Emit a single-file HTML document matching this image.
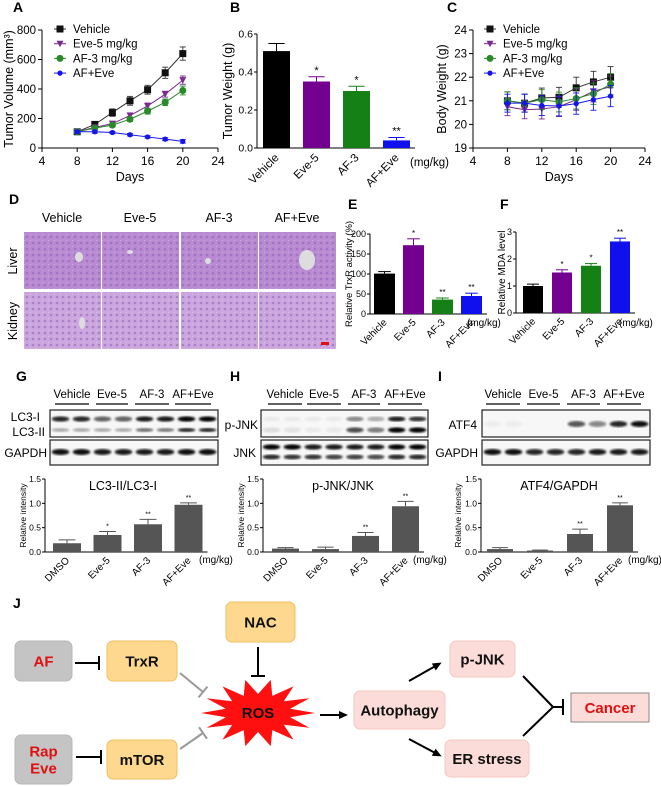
<!DOCTYPE html>
<html><head><meta charset="utf-8">
<style>
html,body{margin:0;padding:0;background:#fff;}
svg{display:block;font-family:"Liberation Sans",Arial,sans-serif;}
</style></head>
<body>
<svg id="fig" xmlns="http://www.w3.org/2000/svg" width="661" height="786" viewBox="0 0 661 786">
<defs>
<filter id="blur1"><feGaussianBlur stdDeviation="1.1"/></filter>
<pattern id="cells" width="6" height="6" patternUnits="userSpaceOnUse">
<circle cx="3" cy="3" r="1.3" fill="#8e5fb3" opacity="0.55"/>
<circle cx="0" cy="0" r="0.9" fill="#f0e0f5" opacity="0.6"/>
</pattern>
</defs>
<rect width="661" height="786" fill="#fff"/>
</svg>
<script>
// ---------- DATA ----------
const days=[8,10,12,14,16,18,20];
const volVehicle=[110,160,240,320,395,510,640];
const volEve=[110,140,165,220,285,365,460];
const volAF=[110,135,155,195,250,310,390];
const volAFEve=[110,110,105,90,75,60,45];
const volVehicleErr=[15,20,25,30,30,38,45];
const volEveErr=[10,12,15,18,20,20,28];
const volAFErr=[10,10,12,15,20,22,30];
const volAFEveErr=[10,10,8,8,8,10,12];
const volTicks=[0,200,400,600,800];
const dayTicks=[4,8,12,16,20,24];

const bwVehicle=[21.0,20.9,21.12,21.15,21.55,21.8,22.0];
const bwEve=[20.75,20.62,20.65,20.75,21.05,21.4,21.6];
const bwAF=[21.0,20.9,21.05,20.95,21.1,21.3,21.7];
const bwAFEve=[20.9,20.9,20.8,20.78,20.88,21.05,21.2];
const bwErr=[0.38,0.38,0.42,0.42,0.45,0.45,0.45];
const bwTicks=[19,20,21,22,23,24];

const drugCats=['Vehicle','Eve-5','AF-3','AF+Eve'];
const wbCats=['DMSO','Eve-5','AF-3','AF+Eve'];
const tumorWeight=[0.51,0.35,0.30,0.04];
const tumorWeightErr=[0.04,0.025,0.025,0.015];
const tumorWeightStars=['','*','*','**'];
const tumorWeightTicks=[0.0,0.2,0.4,0.6];

const trxr=[101,172,36,45];
const trxrErr=[5,16,4,7];
const trxrStars=['','*','**','**'];
const trxrTicks=[0,50,100,150,200];

const mda=[1.0,1.5,1.75,2.65];
const mdaErr=[0.07,0.1,0.08,0.12];
const mdaStars=['','*','*','**'];
const mdaTicks=[0,1,2,3];

const lc3Ratio=[0.18,0.35,0.57,0.97];
const lc3Err=[0.07,0.07,0.1,0.04];
const lc3Stars=['','*','**','**'];
const pjnkRatio=[0.07,0.06,0.33,0.94];
const pjnkErr=[0.02,0.04,0.07,0.1];
const pjnkStars=['','','**','**'];
const atf4Ratio=[0.06,0.03,0.37,0.96];
const atf4Err=[0.03,0.01,0.1,0.05];
const atf4Stars=['','','**','**'];
const wbTicks=['0.0','0.5','1.0','1.5'];

const seriesColors=['#111','#7b2a8f','#2a8a2a','#1515e6'];
const barColors=['#000','#74008f','#158015','#1010ee'];

// ---------- HELPERS ----------
const NS='http://www.w3.org/2000/svg';
const svg=document.getElementById('fig');
function mk(tag,attrs,parent){const e=document.createElementNS(NS,tag);for(const k in attrs)e.setAttribute(k,attrs[k]);(parent||svg).appendChild(e);return e;}
function txt(s,x,y,attrs,parent){const e=mk('text',Object.assign({x:x,y:y},attrs||{}),parent);e.textContent=s;return e;}
function grp(name){const g=mk('g',{});


return g;}
function label(s,x,y){const t=txt(s,x,y,{'font-size':14,'font-weight':'bold'});


}

// ---------- PANEL A & C: line charts ----------
function lineChart(name,ax,xs,yScale,xScale,series,errs,yTicks,yFmt,yLab,yLabX,legendX){
  const g=grp(name);
  const x0=xScale(4),x1=xScale(24),y0=yScale(yTicks[0]),y1=yScale(yTicks[yTicks.length-1]);
  const ya=mk('line',{x1:ax,y1:y0,x2:ax,y2:y1,stroke:'#000','stroke-width':1},g);
  
  
  const xa=mk('line',{x1:x0,y1:y0,x2:x1,y2:y0,stroke:'#000','stroke-width':1},g);
  
  
  yTicks.forEach(v=>{const y=yScale(v);mk('line',{x1:ax-4,y1:y,x2:ax,y2:y,stroke:'#000'},g);
    const t=txt(yFmt(v),ax-6,y+4,{'font-size':11.5,'text-anchor':'end'},g);
    
    });
  dayTicks.forEach(d=>{const x=xScale(d);mk('line',{x1:x,y1:y0,x2:x,y2:y0+4,stroke:'#000'},g);
    const t=txt(String(d),x,y0+17,{'font-size':12,'text-anchor':'middle'},g);
    
    });
  const xt=txt('Days',(x0+x1)/2,y0+33,{'font-size':12.5,'text-anchor':'middle'},g);
  
  
  const yt=txt(yLab,0,0,{'font-size':12.5,'text-anchor':'middle',transform:'translate('+yLabX+','+((y0+y1)/2)+') rotate(-90)'},g);
  
  
  const markers=['square','tri','circle','smallcircle'];
  const names=['Vehicle','Eve-5 mg/kg','AF-3 mg/kg','AF+Eve'];
  series.forEach((s,si)=>{
    const c=seriesColors[si];
    const pts=xs.map((d,i)=>xScale(d)+','+yScale(s[i])).join(' ');
    const pl=mk('polyline',{points:pts,fill:'none',stroke:si==0?'#333':c,'stroke-width':1},g);
    
    
    xs.forEach((d,i)=>{
      const x=xScale(d),y=yScale(s[i]),e=errs[si][i];
      const yt1=yScale(s[i]+e),yb=yScale(s[i]-e);
      mk('line',{x1:x,y1:yt1,x2:x,y2:yb,stroke:si==0?'#333':c,'stroke-width':0.9},g);
      mk('line',{x1:x-3,y1:yt1,x2:x+3,y2:yt1,stroke:si==0?'#333':c,'stroke-width':0.9},g);
      mk('line',{x1:x-3,y1:yb,x2:x+3,y2:yb,stroke:si==0?'#333':c,'stroke-width':0.9},g);
      const m=drawMarker(markers[si],x,y,c,g);
      
      
    });
    const ly=29+si*14.7;
    mk('line',{x1:legendX-6,y1:ly,x2:legendX+6,y2:ly,stroke:si==0?'#333':c},g);
    const lm=drawMarker(markers[si],legendX,ly,c,g);
    
    
    const lt=txt(names[si],legendX+13,ly+4,{'font-size':11.5},g);
    
    
  });
}
function drawMarker(type,x,y,c,g){
  if(type=='square')return mk('rect',{x:x-3.5,y:y-3.5,width:7,height:7,fill:c},g);
  if(type=='tri')return mk('polygon',{points:(x-3.5)+','+(y-3)+' '+(x+3.5)+','+(y-3)+' '+x+','+(y+3.5),fill:c},g);
  if(type=='circle')return mk('circle',{cx:x,cy:y,r:3.5,fill:c},g);
  return mk('circle',{cx:x,cy:y,r:2.6,fill:c},g);
}
label('A',13,12);
lineChart('tumor-volume-chart',42,days,v=>148-v*118/800,d=>42+(d-4)*8.8,
  [volVehicle,volEve,volAF,volAFEve],[volVehicleErr,volEveErr,volAFErr,volAFEveErr],
  volTicks,v=>String(v),'Tumor Volume (mm³)',13,60);
label('C',447,12);
lineChart('body-weight-chart',473,days,v=>148-(v-19)*118/5,d=>473+(d-4)*8.6,
  [bwVehicle,bwEve,bwAF,bwAFEve],[bwErr,bwErr,bwErr,bwErr],
  bwTicks,v=>String(v),'Body Weight (g)',446,490);

// ---------- BAR CHARTS ----------
function barChart(cfg){
  const g=grp(cfg.name);
  const y0=cfg.yScale(cfg.ticks[0]),yTop=cfg.yScale(cfg.ticks[cfg.ticks.length-1]);
  const ya=mk('line',{x1:cfg.ax,y1:y0,x2:cfg.ax,y2:yTop,stroke:'#000','stroke-width':cfg.lw||1},g);
  
  
  const xEnd=cfg.left(cfg.vals.length-1)+cfg.w+5;
  const xa=mk('line',{x1:cfg.ax,y1:y0,x2:xEnd,y2:y0,stroke:'#000','stroke-width':cfg.lw||1},g);
  
  
  cfg.ticks.forEach((v,i)=>{const y=cfg.yScale(v);mk('line',{x1:cfg.ax-3,y1:y,x2:cfg.ax,y2:y,stroke:'#000'},g);
    const t=txt(cfg.tickLabels?cfg.tickLabels[i]:String(v),cfg.ax-4,y+cfg.tfs*0.35,{'font-size':cfg.tfs,'text-anchor':'end'},g);
    
    });
  cfg.vals.forEach((v,i)=>{
    const x=cfg.left(i),yv=cfg.yScale(v);
    const b=mk('rect',{x:x,y:yv,width:cfg.w,height:y0-yv,fill:cfg.colors[i]},g);
    
    
    const cx=x+cfg.w/2,ye=cfg.yScale(v+cfg.errs[i]);
    mk('line',{x1:cx,y1:yv,x2:cx,y2:ye,stroke:cfg.colors[i],'stroke-width':1},g);
    mk('line',{x1:cx-cfg.w*0.3,y1:ye,x2:cx+cfg.w*0.3,y2:ye,stroke:cfg.colors[i],'stroke-width':1},g);
    if(cfg.stars[i]){const s=txt(cfg.stars[i],cx,ye-3,{'font-size':cfg.sfs,'text-anchor':'middle'},g);
      
      }
    const lx=cx+3,ly=y0+cfg.lfs*0.9;
    const cl=txt(cfg.cats[i],lx,ly,{'font-size':cfg.lfs,'text-anchor':'end',transform:'rotate(-45 '+lx+' '+ly+')'},g);
    
    
  });
  const u=txt('(mg/kg)',cfg.unitX,cfg.unitY,{'font-size':cfg.lfs},g);
  
  
  const yt=txt(cfg.yLab,0,0,{'font-size':cfg.yfs,'text-anchor':'middle',transform:'translate('+cfg.yLabX+','+((y0+yTop)/2)+') rotate(-90)'},g);
  
  
  if(cfg.title){const tt=txt(cfg.title,cfg.titleX,cfg.titleY,{'font-size':12.5,'text-anchor':'middle'},g);
    
    }
}
label('B',230,12);
barChart({name:'tumor-weight-chart',ax:257,yScale:v=>148-v*114/0.6,left:i=>263+i*40,w:27,vals:tumorWeight,errs:tumorWeightErr,
  stars:tumorWeightStars,ticks:tumorWeightTicks,tickLabels:['0.0','0.2','0.4','0.6'],tfs:10.5,colors:barColors,cats:drugCats,
  lfs:11.5,sfs:11,unitX:410,unitY:166,yLab:'Tumor Weight (g)',yLabX:232,yfs:12.5});
label('E',348,209);
barChart({name:'trxr-activity-chart',ax:370,yScale:v=>314-v*0.4,left:i=>374+i*29,w:21,vals:trxr,errs:trxrErr,
  stars:trxrStars,ticks:trxrTicks,tfs:9,colors:barColors,cats:drugCats,lfs:10,sfs:8,unitX:467,unitY:326,
  yLab:'Relative TrxR activity (%)',yLabX:352,yfs:9.5});
label('F',500,209);
barChart({name:'mda-level-chart',ax:516,yScale:v=>313-v*27,left:i=>523+i*29,w:20,vals:mda,errs:mdaErr,
  stars:mdaStars,ticks:mdaTicks,tfs:9,colors:barColors,cats:drugCats,lfs:10,sfs:8,unitX:619,unitY:326,
  yLab:'Relative MDA level',yLabX:505,yfs:10});
const grey=['#555','#555','#555','#555'];
barChart({name:'lc3-ratio-chart',ax:45,yScale:v=>552-v*73/1.5,left:i=>53+i*40.5,w:28,vals:lc3Ratio,errs:lc3Err,
  stars:lc3Stars,ticks:[0,0.5,1.0,1.5],tickLabels:wbTicks,tfs:8.5,colors:grey,cats:wbCats,lfs:10,sfs:7,unitX:199,unitY:563,
  yLab:'Relative intensity',yLabX:26,yfs:8.5,title:'LC3-II/LC3-I',titleX:123,titleY:490});
barChart({name:'pjnk-ratio-chart',ax:263,yScale:v=>552-v*73/1.5,left:i=>272+i*40,w:27,vals:pjnkRatio,errs:pjnkErr,
  stars:pjnkStars,ticks:[0,0.5,1.0,1.5],tickLabels:wbTicks,tfs:8.5,colors:grey,cats:wbCats,lfs:10,sfs:7,unitX:413,unitY:563,
  yLab:'Relative intensity',yLabX:244,yfs:8.5,title:'p-JNK/JNK',titleX:343,titleY:490});
barChart({name:'atf4-ratio-chart',ax:481,yScale:v=>552-v*73/1.5,left:i=>487+i*40,w:26,vals:atf4Ratio,errs:atf4Err,
  stars:atf4Stars,ticks:[0,0.5,1.0,1.5],tickLabels:wbTicks,tfs:8.5,colors:grey,cats:wbCats,lfs:10,sfs:7,unitX:628,unitY:563,
  yLab:'Relative intensity',yLabX:461,yfs:8.5,title:'ATF4/GAPDH',titleX:559,titleY:490});

// ---------- PANEL D: histology ----------
label('D',9,204);
(function(){
  const g=grp('histology-panel');
  const cols=['Vehicle','Eve-5','AF-3','AF+Eve'];
  const xs=[24,102,181,259];
  cols.forEach((c,i)=>{
    const t=txt(c,xs[i]+38,222,{'font-size':12.5,'text-anchor':'middle'},g);
    
    
    const l=mk('rect',{x:xs[i],y:232,width:77,height:57,fill:'#b98bd2'},g);
    
    
    mk('rect',{x:xs[i],y:232,width:77,height:57,fill:'url(#cells)'},g);
    const k=mk('rect',{x:xs[i],y:292,width:77,height:57,fill:'#cca6df'},g);
    
    
    mk('rect',{x:xs[i],y:292,width:77,height:57,fill:'url(#cells)'},g);
  });
  mk('ellipse',{cx:79,cy:257,rx:4,ry:5,fill:'#ddd'},g);
  mk('ellipse',{cx:130,cy:252,rx:3,ry:2,fill:'#ddd'},g);
  mk('ellipse',{cx:208,cy:261,rx:3,ry:3,fill:'#ddd'},g);
  mk('ellipse',{cx:307,cy:260,rx:8,ry:10,fill:'#ddd'},g);
  mk('ellipse',{cx:82,cy:323,rx:3,ry:6,fill:'#ddd'},g);
  mk('rect',{x:321,y:342,width:8,height:3,fill:'#e01010'},g);
  const a=txt('Liver',0,0,{'font-size':12.5,'text-anchor':'middle',transform:'translate(17,261) rotate(-90)'},g);
  
  
  const b=txt('Kidney',0,0,{'font-size':12.5,'text-anchor':'middle',transform:'translate(17,321) rotate(-90)'},g);
  
  
})();

// ---------- WESTERN BLOTS ----------
function blot(name,letter,lx,under,boxX,boxW,rows,rowLabels){
  label(letter,lx,381);
  const g=grp(name);
  const hdr=['Vehicle','Eve-5','AF-3','AF+Eve'];
  under.forEach((u,i)=>{
    const t=txt(hdr[i],(u[0]+u[1])/2,398,{'font-size':11.5,'text-anchor':'middle'},g);
    
    
    mk('line',{x1:u[0],y1:404,x2:u[1],y2:404,stroke:'#000','stroke-width':1.3},g);
  });
  const boxes=[[410,27],[440,25]];
  boxes.forEach((b,bi)=>{
    const r=mk('rect',{x:boxX,y:b[0],width:boxW,height:b[1],fill:'#f7f7f7',stroke:'#222','stroke-width':1.2},g);
    
    
  });
  const lane=boxW/8;
  rows.forEach(r=>{
    r.int.forEach((a,i)=>{
      if(a<=0)return;
      mk('ellipse',{cx:boxX+lane*(i+0.5),cy:r.y,rx:lane*0.42,ry:r.h,fill:'#000',opacity:a,filter:'url(#blur1)'},g);
    });
  });
  rowLabels.forEach(l=>{
    const t=txt(l[0],l[1],l[2],{'font-size':12,'text-anchor':'end'},g);
    
    
  });
}
blot('lc3-blot','G',16,[[55,89],[96,128],[135,169],[175,211]],50,168,
  [{y:419,h:2.6,int:[0.85,0.85,0.6,0.6,0.9,0.9,1,1]},{y:430,h:2,int:[0.3,0.3,0.3,0.3,0.55,0.5,0.85,0.85]},{y:452,h:3,int:[0.95,0.95,0.9,0.9,0.9,0.9,0.95,0.95]}],
  [['LC3-I',40,421],['LC3-II',45,436],['GAPDH',47,457]]);
blot('jnk-blot','H',230,[[268,302],[307,341],[348,380],[388,422]],261,167,
  [{y:419,h:2.4,int:[0.05,0.05,0.05,0.05,0.45,0.3,0.9,0.8]},{y:430,h:2.6,int:[0.1,0.08,0.05,0.05,0.7,0.5,1,1]},
   {y:447,h:2.6,int:[1,1,0.9,0.9,0.9,0.9,1,1]},{y:457,h:2.4,int:[0.85,0.8,0.8,0.75,0.75,0.7,0.85,0.85]}],
  [['p-JNK',258,429],['JNK',256,457]]);
blot('atf4-blot','I',438,[[486,520],[527,560],[567,600],[607,641]],482,168,
  [{y:424,h:3,int:[0.04,0.04,0,0,0.65,0.45,0.85,0.95]},{y:452,h:3,int:[0.95,0.95,0.85,0.85,0.85,0.9,0.9,0.9]}],
  [['ATF4',477,429],['GAPDH',478,457]]);

// ---------- PANEL J: schematic ----------
label('J',13,608);
(function(){
  const g=grp('mechanism-diagram');
  function box(name,x,y,w,h,fill,stroke,lines,color,rx){
    const r=mk('rect',{x:x,y:y,width:w,height:h,rx:rx==null?6:rx,fill:fill,stroke:stroke,'stroke-width':1},g);
    
    
    lines.forEach((s,i)=>{const t=txt(s,x+w/2,y+h/2+5.5-(lines.length-1)*8.5+i*17,{'font-size':15,'font-weight':'bold','text-anchor':'middle',fill:color},g);
      
      });
  }
  const orange='#fdd88e',oStroke='#f0c060',pink='#fbdcd8',pStroke='#f6c8c2';
  box('af-box',15,641,57,40,'#c4c4c4','#b8b8b8',['AF'],'#e01010');
  box('rap-eve-box',15,735,57,49,'#c4c4c4','#b8b8b8',['Rap','Eve'],'#e01010');
  box('trxr-box',107,641,70,40,orange,oStroke,['TrxR'],'#111');
  box('mtor-box',107,740,70,39,orange,oStroke,['mTOR'],'#111');
  box('nac-box',226,602,69,40,orange,oStroke,['NAC'],'#111');
  box('autophagy-box',354,691,91,38,pink,pStroke,['Autophagy'],'#111');
  box('pjnk-box',450,641,65,36,pink,pStroke,['p-JNK'],'#111');
  box('er-stress-box',445,740,84,37,pink,pStroke,['ER stress'],'#111');
  box('cancer-box',571,693,78,29,'#fbdcd8','#888',['Cancer'],'#e01010',0);
  let pts=[];const cx=258,cy=713,n=14;
  for(let i=0;i<n*2;i++){const a=Math.PI*i/n;const o=i%2==0;
    pts.push((cx+Math.cos(a)*(o?57:33)).toFixed(1)+','+(cy+Math.sin(a)*(o?34:19)).toFixed(1));}
  const st=mk('polygon',{points:pts.join(' '),fill:'#ff1010'},g);
  
  
  const rt=txt('ROS',cx,cy+5,{'font-size':15,'font-weight':'bold','text-anchor':'middle',fill:'#111'},g);
  
  
  function inh(x1,y1,x2,y2,col,w){
    mk('line',{x1:x1,y1:y1,x2:x2,y2:y2,stroke:col,'stroke-width':w},g);
    const dx=x2-x1,dy=y2-y1,L=Math.hypot(dx,dy),px=-dy/L*7,py=dx/L*7;
    mk('line',{x1:x2+px,y1:y2+py,x2:x2-px,y2:y2-py,stroke:col,'stroke-width':w},g);
  }
  function arr(x1,y1,x2,y2){
    mk('line',{x1:x1,y1:y1,x2:x2,y2:y2,stroke:'#000','stroke-width':2},g);
    const dx=x2-x1,dy=y2-y1,L=Math.hypot(dx,dy),ux=dx/L,uy=dy/L;
    mk('polygon',{points:(x2+ux*3)+','+(y2+uy*3)+' '+(x2-ux*6-uy*4)+','+(y2-uy*6+ux*4)+' '+(x2-ux*6+uy*4)+','+(y2-uy*6-ux*4),fill:'#000'},g);
  }
  inh(75,663,99,663,'#000',2);
  inh(76,757,101,757,'#000',2);
  inh(258,647,258,676,'#000',2);
  inh(180,673,203,692,'#999',2);
  inh(180,749,203,733,'#999',2);
  arr(320,715,345,715);
  arr(409,681,439,664);
  arr(409,739,439,755);
  mk('line',{x1:523,y1:676,x2:553,y2:707,stroke:'#000','stroke-width':2},g);
  mk('line',{x1:523,y1:736,x2:553,y2:707,stroke:'#000','stroke-width':2},g);
  mk('line',{x1:553,y1:707,x2:563,y2:707,stroke:'#000','stroke-width':2},g);
  mk('line',{x1:563,y1:699,x2:563,y2:715,stroke:'#000','stroke-width':2},g);
})();
</script>
</body></html>
